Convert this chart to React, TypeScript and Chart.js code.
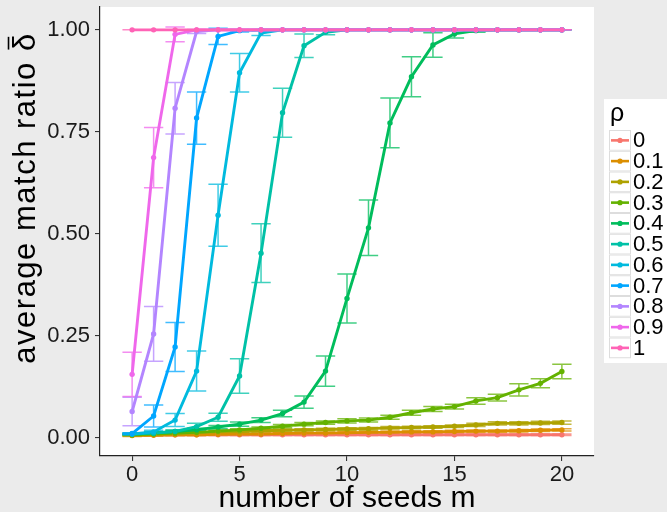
import React, { useEffect, useRef } from 'react';
import { Chart, registerables } from 'chart.js';

Chart.register(...registerables);

// ---------- data ----------
const seeds = [0, 1, 2, 3, 4, 5, 6, 7, 8, 9, 10, 11, 12, 13, 14, 15, 16, 17, 18, 19, 20];
const rhoLabels = ['0', '0.1', '0.2', '0.3', '0.4', '0.5', '0.6', '0.7', '0.8', '0.9', '1'];
const xTicks = [0, 5, 10, 15, 20];
const yTicks = [0, 0.25, 0.5, 0.75, 1];
const yTickLabels = ['0.00', '0.25', '0.50', '0.75', '1.00'];

const rho00 = [0.008, 0.008, 0.008, 0.008, 0.008, 0.008, 0.008, 0.008, 0.008, 0.008, 0.008, 0.008, 0.008, 0.008, 0.008, 0.008, 0.008, 0.008, 0.008, 0.008, 0.008];
const err00 = [0.002, 0.002, 0.002, 0.002, 0.002, 0.002, 0.002, 0.002, 0.002, 0.002, 0.002, 0.002, 0.002, 0.002, 0.002, 0.002, 0.002, 0.002, 0.002, 0.002, 0.002];
const rho01 = [0.006, 0.007, 0.008, 0.008, 0.009, 0.010, 0.010, 0.011, 0.012, 0.012, 0.013, 0.014, 0.014, 0.015, 0.015, 0.016, 0.017, 0.017, 0.018, 0.019, 0.020];
const err01 = [0.002, 0.002, 0.002, 0.002, 0.002, 0.002, 0.002, 0.002, 0.002, 0.002, 0.003, 0.003, 0.003, 0.003, 0.003, 0.003, 0.003, 0.003, 0.003, 0.003, 0.003];
const rho02 = [0.007, 0.009, 0.011, 0.013, 0.015, 0.016, 0.018, 0.019, 0.020, 0.021, 0.022, 0.023, 0.025, 0.026, 0.027, 0.029, 0.032, 0.036, 0.036, 0.037, 0.038];
const err02 = [0.002, 0.002, 0.002, 0.002, 0.002, 0.003, 0.003, 0.003, 0.003, 0.003, 0.003, 0.003, 0.003, 0.003, 0.003, 0.003, 0.004, 0.004, 0.004, 0.004, 0.004];
const rho03 = [0.008, 0.010, 0.012, 0.014, 0.017, 0.020, 0.024, 0.029, 0.034, 0.038, 0.042, 0.044, 0.051, 0.062, 0.071, 0.077, 0.091, 0.099, 0.118, 0.134, 0.163];
const err03 = [0.002, 0.002, 0.002, 0.003, 0.003, 0.003, 0.003, 0.004, 0.004, 0.004, 0.005, 0.005, 0.005, 0.006, 0.006, 0.006, 0.008, 0.008, 0.015, 0.011, 0.018];
const rho04 = [0.010, 0.012, 0.016, 0.020, 0.027, 0.034, 0.044, 0.060, 0.088, 0.164, 0.342, 0.515, 0.772, 0.885, 0.963, 0.990, 0.998, 1, 1, 1, 1];
const err04 = [0.002, 0.003, 0.003, 0.004, 0.004, 0.005, 0.006, 0.008, 0.015, 0.037, 0.060, 0.068, 0.061, 0.049, 0.030, 0.010, 0.004, 0, 0, 0, 0];
const rho05 = [0.010, 0.012, 0.016, 0.028, 0.051, 0.152, 0.453, 0.797, 0.961, 0.994, 1, 1, 1, 1, 1, 1, 1, 1, 1, 1, 1];
const err05 = [0.002, 0.003, 0.004, 0.008, 0.010, 0.042, 0.072, 0.060, 0.029, 0.006, 0, 0, 0, 0, 0, 0, 0, 0, 0, 0, 0];
const rho06 = [0.010, 0.015, 0.044, 0.164, 0.546, 0.895, 0.992, 1, 1, 1, 1, 1, 1, 1, 1, 1, 1, 1, 1, 1, 1];
const err06 = [0.002, 0.004, 0.016, 0.049, 0.076, 0.047, 0.006, 0, 0, 0, 0, 0, 0, 0, 0, 0, 0, 0, 0, 0, 0];
const rho07 = [0.011, 0.054, 0.223, 0.784, 0.984, 0.998, 1, 1, 1, 1, 1, 1, 1, 1, 1, 1, 1, 1, 1, 1, 1];
const err07 = [0.002, 0.027, 0.060, 0.064, 0.020, 0.003, 0, 0, 0, 0, 0, 0, 0, 0, 0, 0, 0, 0, 0, 0, 0];
const rho08 = [0.065, 0.255, 0.808, 0.996, 1, 1, 1, 1, 1, 1, 1, 1, 1, 1, 1, 1, 1, 1, 1, 1, 1];
const err08 = [0.035, 0.067, 0.063, 0.005, 0, 0, 0, 0, 0, 0, 0, 0, 0, 0, 0, 0, 0, 0, 0, 0, 0];
const rho09 = [0.156, 0.687, 0.989, 1, 1, 1, 1, 1, 1, 1, 1, 1, 1, 1, 1, 1, 1, 1, 1, 1, 1];
const err09 = [0.054, 0.074, 0.018, 0, 0, 0, 0, 0, 0, 0, 0, 0, 0, 0, 0, 0, 0, 0, 0, 0, 0];
const rho10 = [1, 1, 1, 1, 1, 1, 1, 1, 1, 1, 1, 1, 1, 1, 1, 1, 1, 1, 1, 1, 1];
const err10 = [0, 0, 0, 0, 0, 0, 0, 0, 0, 0, 0, 0, 0, 0, 0, 0, 0, 0, 0, 0, 0];

const seriesValues = [rho00, rho01, rho02, rho03, rho04, rho05, rho06, rho07, rho08, rho09, rho10];
const seriesErrors = [err00, err01, err02, err03, err04, err05, err06, err07, err08, err09, err10];

// ---------- styles ----------
const colors = ['#F8766D', '#DB8E00', '#AEA200', '#64B200', '#00BD5C', '#00C1A7', '#00BADE', '#00A6FF', '#B385FF', '#EF67EB', '#FF63B6'];
const FONT = '"Liberation Sans", Arial, Helvetica, sans-serif';
const BG = '#EBEBEB';
const CAP_HALF = 0.45;

function hexToRgba(hex: string, a: number) {
  const n = parseInt(hex.slice(1), 16);
  return `rgba(${(n >> 16) & 255},${(n >> 8) & 255},${n & 255},${a})`;
}

function errorBarData(values: number[], errs: number[]) {
  const out: any[] = [];
  seeds.forEach((m, i) => {
    const lo = values[i] - errs[i];
    const hi = values[i] + errs[i];
    out.push({ x: m - CAP_HALF, y: hi }, { x: m + CAP_HALF, y: hi }, { x: m, y: null });
    out.push({ x: m, y: hi }, { x: m, y: lo }, { x: m, y: null });
    out.push({ x: m - CAP_HALF, y: lo }, { x: m + CAP_HALF, y: lo }, { x: m, y: null });
  });
  return out;
}

const decorPlugin = {
  id: 'decor',
  beforeDraw(chart: any) {
    const { ctx, chartArea } = chart;
    ctx.save();
    ctx.fillStyle = '#ffffff';
    ctx.fillRect(chartArea.left, chartArea.top, chartArea.right - chartArea.left, chartArea.bottom - chartArea.top);
    ctx.restore();
  },
  afterDraw(chart: any) {
    const { ctx, chartArea } = chart;
    ctx.save();
    // x title
    ctx.fillStyle = '#000';
    ctx.font = `30px ${FONT}`;
    ctx.textAlign = 'center';
    ctx.textBaseline = 'alphabetic';
    ctx.fillText('number of seeds m', (chartArea.left + chartArea.right) / 2, 507);

    // y title (rotated) with bar over delta
    const size = 31;
    ctx.font = `${size}px ${FONT}`;
    try { (ctx as any).letterSpacing = '1.5px'; } catch (e) { /* ignore */ }
    ctx.translate(35, 198);
    ctx.rotate(-Math.PI / 2);
    ctx.textAlign = 'left';
    const main = 'average match ratio ';
    const wMain = ctx.measureText(main).width;
    const wD = ctx.measureText('δ').width;
    const x0 = -(wMain + wD) / 2;
    ctx.fillText(main, x0, 0);
    ctx.fillText('δ', x0 + wMain, 0);
    ctx.fillRect(x0 + wMain + wD * 0.08, -size * 0.88, wD * 0.68, 1.6);
    try { (ctx as any).letterSpacing = '0px'; } catch (e) { /* ignore */ }
    ctx.restore();

    // legend
    ctx.save();
    const lx = 604, ly = 99, lw = 63, lh = 264;
    ctx.fillStyle = '#ffffff';
    ctx.fillRect(lx, ly, lw, lh);
    ctx.fillStyle = '#000';
    ctx.font = `25px ${FONT}`;
    ctx.textAlign = 'left';
    ctx.textBaseline = 'alphabetic';
    ctx.fillText('ρ', 610, 121);
    const keyH = 20.75;
    chart.data.datasets
      .filter((d: any) => d.kind === 'line')
      .forEach((d: any, i: number) => {
        const y0 = 130 + i * keyH;
        ctx.fillStyle = '#ffffff';
        ctx.fillRect(609, y0, 22, keyH);
        ctx.strokeStyle = '#DDDDDD';
        ctx.lineWidth = 1;
        ctx.strokeRect(609.5, y0 + 0.5, 21, keyH - 1);
        const cy = y0 + keyH / 2;
        ctx.strokeStyle = d.borderColor;
        ctx.lineWidth = 2.6;
        ctx.beginPath();
        ctx.moveTo(611, cy);
        ctx.lineTo(629, cy);
        ctx.stroke();
        ctx.fillStyle = d.borderColor;
        ctx.beginPath();
        ctx.arc(620, cy, 2.6, 0, Math.PI * 2);
        ctx.fill();
        ctx.fillStyle = '#000';
        ctx.font = `22px ${FONT}`;
        ctx.textBaseline = 'middle';
        ctx.fillText(d.label, 633, cy + 1);
      });
    ctx.restore();
  },
};

export default function App() {
  const canvasRef = useRef<HTMLCanvasElement | null>(null);

  useEffect(() => {
    document.body.style.margin = '0';
    const canvas = canvasRef.current;
    if (!canvas) return;

    const datasets: any[] = [];
    seriesValues.forEach((vals, i) => {
      datasets.push({
        kind: 'err',
        label: rhoLabels[i] + ' err',
        data: errorBarData(vals, seriesErrors[i]),
        borderColor: hexToRgba(colors[i], 0.75),
        borderWidth: 1.5,
        pointRadius: 0,
        spanGaps: false,
        tension: 0,
        order: 300 - i,
      });
    });
    seriesValues.forEach((vals, i) => {
      datasets.push({
        kind: 'line',
        label: rhoLabels[i],
        data: seeds.map((m, j) => ({ x: m, y: vals[j] })),
        borderColor: colors[i],
        backgroundColor: colors[i],
        borderWidth: 2.9,
        pointRadius: 0,
        tension: 0,
        order: 200 - i,
      });
    });
    seriesValues.forEach((vals, i) => {
      datasets.push({
        kind: 'pts',
        label: rhoLabels[i] + ' pts',
        data: seeds.map((m, j) => ({ x: m, y: vals[j] })),
        borderColor: colors[i],
        backgroundColor: colors[i],
        showLine: false,
        pointRadius: 2.7,
        pointBorderWidth: 0,
        order: 100 - i,
      });
    });

    const chart = new Chart(canvas, {
      type: 'line',
      data: { datasets },
      plugins: [decorPlugin],
      options: {
        animation: false,
        responsive: false,
        maintainAspectRatio: false,
        layout: { padding: { left: 0, right: 73, top: 7, bottom: 0 } },
        plugins: { legend: { display: false }, tooltip: { enabled: false } },
        events: [],
        scales: {
          x: {
            type: 'linear',
            min: -1.495,
            max: 21.495,
            afterFit: (scale: any) => {
              scale.height = 56;
              scale.paddingLeft = 0;
              scale.paddingRight = 0;
            },
            afterBuildTicks: (scale: any) => { scale.ticks = xTicks.map((v) => ({ value: v })); },
            grid: { display: true, drawOnChartArea: false, drawTicks: true, tickLength: 5, color: '#333333', lineWidth: 1.1 },
            border: { display: true, color: '#222222', width: 1.2 },
            ticks: { color: '#1a1a1a', font: { family: FONT, size: 22 }, padding: 1, maxRotation: 0, callback: (v: any) => String(v) },
          },
          y: {
            type: 'linear',
            min: -0.044,
            max: 1.056,
            afterFit: (scale: any) => {
              scale.width = 100;
              scale.paddingTop = 0;
              scale.paddingBottom = 0;
            },
            afterBuildTicks: (scale: any) => { scale.ticks = yTicks.map((v) => ({ value: v })); },
            grid: { display: true, drawOnChartArea: false, drawTicks: true, tickLength: 5, color: '#333333', lineWidth: 1.1 },
            border: { display: true, color: '#222222', width: 1.2 },
            ticks: {
              color: '#1a1a1a',
              font: { family: FONT, size: 22 },
              padding: 5,
              callback: (v: any) => {
                const k = yTicks.indexOf(Number(v));
                return k >= 0 ? yTickLabels[k] : '';
              },
            },
          },
        },
      } as any,
    });
    return () => chart.destroy();
  }, []);

  return (
    <div style={{ position: 'fixed', left: 0, top: 0, width: 667, height: 512, background: BG }}>
      <canvas ref={canvasRef} width={667} height={512} style={{ width: 667, height: 512, display: 'block' }} />
    </div>
  );
}
